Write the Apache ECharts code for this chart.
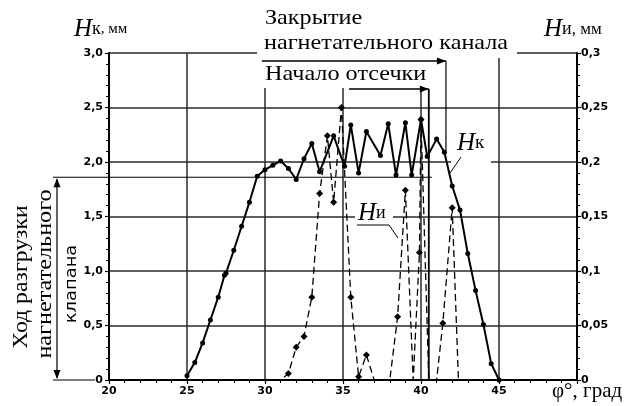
<!DOCTYPE html>
<html>
<head>
<meta charset="utf-8">
<script src="https://cdn.jsdelivr.net/npm/echarts/dist/echarts.min.js"></script>
<style>
  html, body { margin: 0; padding: 0; background: #fff; }
  #chart { width: 631px; height: 406px; }
</style>
</head>
<body>
<div id="chart"></div>
<script>
// Crank angle φ, degrees, and valve lift Hк, mm (left axis)
const hkPhi  = [25.0, 25.5, 26.0, 26.5, 27.0, 27.4, 27.5, 28.0, 28.5, 29.0,
                29.5, 30.0, 30.5, 31.0, 31.5, 32.0, 32.5, 33.0, 33.5, 34.4,
                35.1, 35.5, 36.0, 36.5, 37.4, 37.9, 38.4, 39.0, 39.4, 40.0,
                40.4, 41.0, 41.5, 42.0, 42.5, 43.0, 43.5, 44.0, 44.5, 45.0];
const hkLift = [0.04, 0.16, 0.34, 0.55, 0.76, 0.96, 0.98, 1.19, 1.41, 1.63,
                1.87, 1.93, 1.97, 2.01, 1.94, 1.84, 2.03, 2.17, 1.91, 2.24,
                1.96, 2.34, 1.90, 2.28, 2.06, 2.35, 1.88, 2.36, 1.88, 2.39,
                2.05, 2.21, 2.09, 1.78, 1.56, 1.16, 0.82, 0.51, 0.15, 0.0];

// Needle lift Hи, mm (right axis)
const hiPhi  = [20, 31.0, 31.5, 32.0, 32.5, 33.0, 33.5, 34.0, 34.4, 34.9,
                35.5, 36.0, 36.5, 37.0, 37.5, 38.0, 38.5, 39.0, 39.5, 39.9,
                40.0, 40.5, 41.0, 41.4, 42.0, 42.4, 50];
const hiLift = [0, 0, 0.006, 0.030, 0.040, 0.076, 0.171, 0.224, 0.163, 0.250,
                0.076, 0.003, 0.023, 0, 0, 0, 0.058, 0.174, 0, 0.117,
                0.239, 0, 0, 0.052, 0.158, 0, 0];

// Tick labels
const xTickLabels     = [20, 25, 30, 35, 40, 45];
const leftTickLabels  = ['0', '0,5', '1,0', '1,5', '2,0', '2,5', '3,0'];
const rightTickLabels = ['0', '0,05', '0,1', '0,15', '0,2', '0,25', '0,3'];

// Annotation anchors (φ, degrees; H, mm)
const cutoffPhi  = 40.5;   // Начало отсечки
const closePhi   = 41.6;   // Закрытие нагнетательного канала
const unloadLift = 1.86;   // Ход разгрузки нагнетательного клапана

const SERIF = '"Liberation Serif", "DejaVu Serif", serif';
const SANS  = '"DejaVu Sans", sans-serif';
const INK = '#000';
const GRID = '#2a2a2a';

const chart = echarts.init(document.getElementById('chart'), null, { renderer: 'canvas' });

const hkData = hkPhi.map((p, i) => [p, hkLift[i]]);
const hiData = hiPhi.map((p, i) => (
  hiLift[i] === 0 ? { value: [p, 0], symbol: 'none' } : [p, hiLift[i]]
));

const tickStyle = { show: true, length: 4, inside: false, lineStyle: { color: INK, width: 1.2 } };
const minorStyle = { show: true, splitNumber: 5, length: 3, lineStyle: { color: INK, width: 1 } };
const labelStyle = { color: INK, fontFamily: SANS, fontSize: 11, fontWeight: 'bold' };

chart.setOption({
  animation: false,
  backgroundColor: '#fff',
  grid: { left: 109, right: 54, top: 53, bottom: 26, containLabel: false },
  xAxis: {
    type: 'value', min: 20, max: 50, interval: 5,
    axisLine: { show: true, onZero: false, lineStyle: { color: INK, width: 2 } },
    axisTick: tickStyle,
    minorTick: minorStyle,
    splitLine: { show: true, lineStyle: { color: GRID, width: 1.5 } },
    axisLabel: Object.assign({}, labelStyle, {
      margin: 6,
      formatter: v => (xTickLabels.indexOf(v) >= 0 ? String(v) : '')
    })
  },
  yAxis: [
    {
      type: 'value', min: 0, max: 3, interval: 0.5, position: 'left',
      axisLine: { show: true, lineStyle: { color: INK, width: 2 } },
      axisTick: tickStyle,
      minorTick: minorStyle,
      splitLine: { show: true, lineStyle: { color: GRID, width: 1.5 } },
      axisLabel: Object.assign({}, labelStyle, {
        margin: 6,
        formatter: v => leftTickLabels[Math.round(v / 0.5)]
      })
    },
    {
      type: 'value', min: 0, max: 0.3, interval: 0.05, position: 'right',
      axisLine: { show: true, lineStyle: { color: INK, width: 2 } },
      axisTick: tickStyle,
      minorTick: minorStyle,
      splitLine: { show: false },
      axisLabel: Object.assign({}, labelStyle, {
        margin: 4,
        formatter: v => rightTickLabels[Math.round(v / 0.05)]
      })
    }
  ],
  series: [
    {
      name: 'Hи', type: 'line', yAxisIndex: 1, data: hiData, z: 3,
      symbol: 'diamond', symbolSize: 7,
      itemStyle: { color: INK },
      lineStyle: { color: INK, width: 1.3, type: [7, 4] }
    },
    {
      name: 'Hк', type: 'line', yAxisIndex: 0, data: hkData, z: 4,
      symbol: 'circle', symbolSize: 5,
      itemStyle: { color: INK },
      lineStyle: { color: INK, width: 2 }
    }
  ]
});

// Annotations anchored to the axes
function px(phi, h) {
  return chart.convertToPixel({ xAxisIndex: 0, yAxisIndex: 0 }, [phi, h]);
}
function line(x1, y1, x2, y2, w, z) {
  return { type: 'line', z: z || 5, silent: true,
    shape: { x1, y1, x2, y2 }, style: { stroke: INK, lineWidth: w || 1 } };
}
function arrowHead(x, y, dir) {
  const L = 9, W = 3.5;
  let pts;
  if (dir === 'right') pts = [[x, y], [x - L, y - W], [x - L, y + W]];
  else if (dir === 'up') pts = [[x, y], [x - W, y + L], [x + W, y + L]];
  else pts = [[x, y], [x - W, y - L], [x + W, y - L]];
  return { type: 'polygon', z: 5, silent: true, shape: { points: pts }, style: { fill: INK } };
}
function text(x, y, t, opts, extra) {
  return Object.assign({ type: 'text', z: 6, silent: true, x, y,
    style: Object.assign({ text: t, fill: INK, font: '22px ' + SERIF }, opts || {}) }, extra || {});
}
function vtext(x, y, t, font, stretch) {
  // caption reading bottom-to-top
  return text(x, y, t, { font, align: 'center', verticalAlign: 'middle' },
    { rotation: Math.PI / 2, scaleX: stretch || 1 });
}
function whiteBox(x, y, w, h) {
  return { type: 'rect', z: 1, silent: true, shape: { x, y, width: w, height: h }, style: { fill: '#fff' } };
}

const pCut = px(cutoffPhi, 0);
const pClose = px(closePhi, 2.1);
const pUnload = px(20, unloadLift);
const pZero = px(20, 0);
const pUnloadEnd = px(40.7, unloadLift);

const WIDE = { scaleX: 1.1 };

const graphics = [
  // white boxes behind the callout texts
  whiteBox(257, 0, 260, 58),
  whiteBox(257, 58, 174, 30),
  whiteBox(451, 128, 40, 36),
  whiteBox(355, 203, 38, 24),

  // Закрытие нагнетательного канала
  text(265, 7, 'Закрытие', null, WIDE),
  text(264, 32, 'нагнетательного канала', null, WIDE),
  line(262, 61, pClose[0], 61, 1.3),
  arrowHead(pClose[0], 61, 'right'),
  line(pClose[0], 61, pClose[0], pClose[1], 1.2),

  // Начало отсечки
  text(265, 63, 'Начало отсечки', null, WIDE),
  line(349, 89, pCut[0], 89, 1.3),
  arrowHead(pCut[0], 89, 'right'),
  line(pCut[0], 89, pCut[0], pCut[1], 1.8),

  // Ход разгрузки нагнетательного клапана (dimension)
  line(53, pUnload[1], pUnloadEnd[0], pUnload[1], 1),
  line(53, pZero[1], 95, pZero[1], 1),
  line(57, pUnload[1] + 2, 57, pZero[1] - 2, 1.2),
  arrowHead(57, pUnload[1] + 1, 'up'),
  arrowHead(57, pZero[1] - 1, 'down'),
  vtext(21, 277, 'Ход разгрузки', '22px ' + SERIF, 1.08),
  vtext(45, 274, 'нагнетательного', '22px ' + SERIF, 1.1),
  vtext(72, 284, 'клапана', '16px ' + SANS, 1.12),

  // curve labels
  text(457, 131, '{h|H}{s|к}', {
    rich: { h: { font: 'italic 25px ' + SERIF, fill: INK }, s: { font: '19px ' + SERIF, fill: INK } }
  }),
  line(461, 157, 450, 173, 1),
  text(358, 201, '{h|H}{s|и}', {
    rich: { h: { font: 'italic 25px ' + SERIF, fill: INK }, s: { font: '18px ' + SERIF, fill: INK } }
  }),
  line(357, 225, 389, 225, 1),
  line(389, 225, 398, 238, 1),

  // axis names
  text(74, 17, '{h|H}{s|к}{t|, мм}', {
    rich: { h: { font: 'italic 25px ' + SERIF, fill: INK }, s: { font: '18px ' + SERIF, fill: INK },
            t: { font: '15px ' + SERIF, fill: INK } }
  }),
  text(544, 17, '{h|H}{s|и}{t|, мм}', {
    rich: { h: { font: 'italic 25px ' + SERIF, fill: INK }, s: { font: '18px ' + SERIF, fill: INK },
            t: { font: '17px ' + SERIF, fill: INK } }
  }),
  text(552, 381, 'φ°, град', { font: '21px ' + SERIF })
];

chart.setOption({ graphic: graphics });
</script>
</body>
</html>
